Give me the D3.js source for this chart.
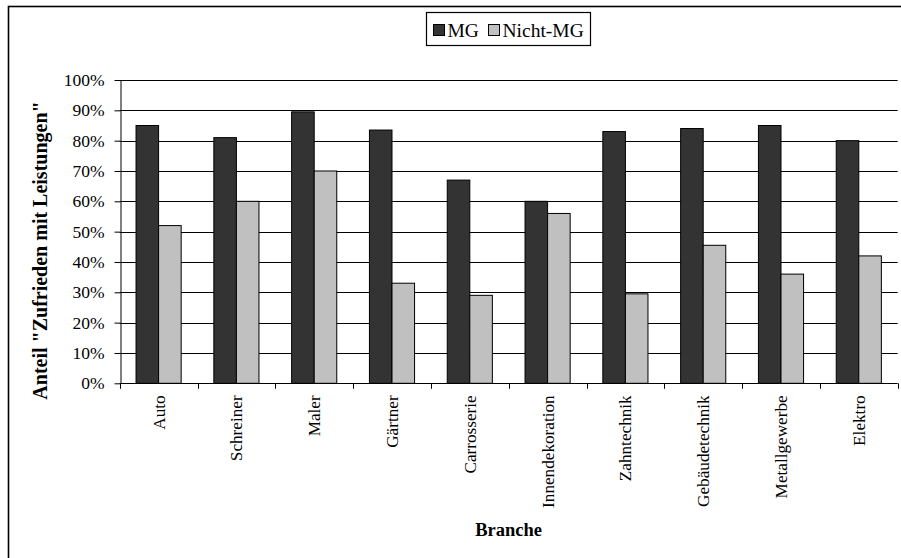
<!DOCTYPE html>
<html>
<head>
<meta charset="utf-8">
<script src="https://cdn.jsdelivr.net/npm/d3@7"></script>
<style>
  html, body { margin: 0; padding: 0; background: #fff; }
  svg { display: block; }
  svg text { font-family: "Liberation Serif", "Times New Roman", Times, serif !important; fill: #000; }
</style>
</head>
<body>
<svg id="chart" width="901" height="558"></svg>
<script>
// Share of customers "satisfied with services", by trade
const categories = ["Auto", "Schreiner", "Maler", "Gärtner", "Carrosserie",
  "Innendekoration", "Zahntechnik", "Gebäudetechnik", "Metallgewerbe", "Elektro"];
const seriesNames = ["MG", "Nicht-MG"];
const valuesMG = [0.85, 0.81, 0.895, 0.835, 0.67, 0.60, 0.83, 0.84, 0.85, 0.80];
const valuesNichtMG = [0.52, 0.60, 0.70, 0.33, 0.29, 0.56, 0.295, 0.455, 0.36, 0.42];
const yTicks = [0, 0.1, 0.2, 0.3, 0.4, 0.5, 0.6, 0.7, 0.8, 0.9, 1.0];
const seriesColors = ["#333333", "#c0c0c0"];
const yTitle = "Anteil \"Zufrieden mit Leistungen\"";
const xTitle = "Branche";

const svg = d3.select("#chart");

// outer frame (continues past the right and bottom edges)
svg.append("rect")
  .attr("x", 8.5).attr("y", 6.5)
  .attr("width", 920).attr("height", 580)
  .attr("fill", "none").attr("stroke", "#000").attr("stroke-width", 1.6);

const plot = { left: 119.7, right: 897.7, top: 80, bottom: 383.3 };

const y = d3.scaleLinear().domain([0, 1]).range([plot.bottom, plot.top]);
const x0 = d3.scaleBand().domain(categories)
  .range([plot.left, plot.right]).paddingInner(0.42).paddingOuter(0.21);
const x1 = d3.scaleBand().domain(seriesNames).range([0, x0.bandwidth()]);
const boundaries = d3.scaleLinear().domain([0, categories.length]).range([plot.left, plot.right]);

// horizontal gridlines
svg.append("g").selectAll("line").data(yTicks.slice(1)).join("line")
  .attr("x1", plot.left).attr("x2", plot.right)
  .attr("y1", d => Math.round(y(d)) + 0.5).attr("y2", d => Math.round(y(d)) + 0.5)
  .attr("stroke", "#000").attr("stroke-width", 1);

// bars
const rows = categories.map((c, i) => ({ c, vals: [valuesMG[i], valuesNichtMG[i]] }));
const groups = svg.append("g").selectAll("g").data(rows).join("g")
  .attr("transform", d => `translate(${x0(d.c)},0)`);
groups.selectAll("rect")
  .data(d => d.vals.map((v, k) => ({ name: seriesNames[k], v, k })))
  .join("rect")
  .attr("x", d => x1(d.name))
  .attr("y", d => y(d.v))
  .attr("width", x1.bandwidth())
  .attr("height", d => y(0) - y(d.v))
  .attr("fill", d => seriesColors[d.k])
  .attr("stroke", "#000").attr("stroke-width", 1);

// y axis
const yAxis = d3.axisLeft(y).tickValues(yTicks)
  .tickFormat(d3.format(".0%")).tickSizeInner(6).tickSizeOuter(0).tickPadding(10);
const gy = svg.append("g").attr("transform", `translate(${Math.round(plot.left) + 0.5},0)`).call(yAxis);
gy.attr("font-family", null).attr("font-size", null);
gy.select(".domain").attr("stroke", "#000");
gy.selectAll(".tick line").attr("stroke", "#000");
gy.selectAll(".tick text").style("font-size", "17.5px");

// x axis line and category boundary ticks
const gx = svg.append("g");
gx.append("line")
  .attr("x1", plot.left).attr("x2", plot.right)
  .attr("y1", Math.round(y(0)) + 0.5).attr("y2", Math.round(y(0)) + 0.5)
  .attr("stroke", "#000");
gx.selectAll("line.tk").data(d3.range(categories.length + 1)).join("line")
  .attr("class", "tk")
  .attr("x1", d => Math.round(boundaries(d)) + 0.5).attr("x2", d => Math.round(boundaries(d)) + 0.5)
  .attr("y1", y(0)).attr("y2", y(0) + 5.5)
  .attr("stroke", "#000");

// category labels, rotated
gx.selectAll("text").data(categories).join("text")
  .attr("transform", d => `translate(${x0(d) + x0.bandwidth() / 2},${y(0) + 12}) rotate(-90)`)
  .attr("text-anchor", "end")
  .attr("dy", "0.35em")
  .style("font-size", "17.2px")
  .text(d => d);

// axis titles
svg.append("text")
  .attr("transform", `translate(47,250.5) rotate(-90)`)
  .attr("text-anchor", "middle")
  .style("font-weight", "bold").style("font-size", "20px")
  .text(yTitle);
svg.append("text")
  .attr("x", (plot.left + plot.right) / 2).attr("y", 535.7)
  .attr("text-anchor", "middle")
  .style("font-weight", "bold").style("font-size", "18.5px")
  .text(xTitle);

// legend
const legend = svg.append("g").attr("transform", "translate(426,12)");
legend.append("rect").attr("x", 0.5).attr("y", 0.5).attr("width", 164).attr("height", 33)
  .attr("fill", "#fff").attr("stroke", "#000").attr("stroke-width", 1.2);
const legendX = d3.scaleOrdinal().domain(seriesNames).range([7, 62]);
const items = legend.selectAll("g.item").data(seriesNames).join("g")
  .attr("class", "item")
  .attr("transform", d => `translate(${legendX(d)},0)`);
items.append("rect")
  .attr("x", 0.5).attr("y", 12.5).attr("width", 11).attr("height", 11)
  .attr("fill", (d, i) => seriesColors[i]).attr("stroke", "#000");
items.append("text")
  .attr("x", 14.5).attr("y", 24.5)
  .style("font-size", "19.5px")
  .text(d => d);
</script>
</body>
</html>
